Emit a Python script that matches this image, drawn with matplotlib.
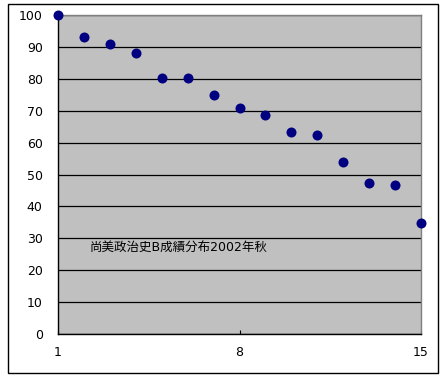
import matplotlib
matplotlib.use('Agg')
import matplotlib.pyplot as plt
from matplotlib.patches import Rectangle

# DejaVu for digits/latin, CJK fallback for the Japanese note
plt.rcParams['font.family'] = ['DejaVu Sans', 'Noto Sans CJK JP']

# data
ranks = [1, 2, 3, 4, 5, 6, 7, 8, 9, 10, 11, 12, 13, 14, 15]
scores = [100, 93.2, 91, 88.2, 80.3, 80.3, 75, 70.9, 68.7, 63.4, 62.5, 54, 47.4, 46.8, 34.9]
x_ticks = [1, 8, 15]
y_ticks = list(range(0, 101, 10))
note = '尚美政治史B成績分布2002年秋'

fig = plt.figure(figsize=(4.44, 3.75), dpi=100)
fig.patch.set_facecolor('white')
ax = fig.add_axes([58/444, 1 - 334/375, (421 - 58)/444, (334 - 15)/375])
ax.set_facecolor('#C0C0C0')

ax.scatter(ranks, scores, s=52, color='#000080', zorder=3, clip_on=False, linewidths=0)

ax.set_xlim(1, 15)
ax.set_ylim(0, 100)
ax.set_xticks(x_ticks)
ax.set_yticks(y_ticks)
ax.yaxis.grid(True, color='black', linewidth=0.9)
ax.set_axisbelow(True)
ax.tick_params(axis='x', direction='in', length=3, width=0.8, pad=9, labelsize=9)
ax.tick_params(axis='y', length=0, pad=11, labelsize=9)

for side in ['left', 'bottom']:
    ax.spines[side].set_color('black')
    ax.spines[side].set_linewidth(1)
for side in ['top', 'right']:
    ax.spines[side].set_color('#808080')
    ax.spines[side].set_linewidth(1)

ax.text(2.23, 27, note, fontsize=9, va='center', ha='left')

# outer chart border
fig.patches.append(Rectangle((8/444, 1 - 373/375), 430/444, 369/375, transform=fig.transFigure,
                             fill=False, edgecolor='black', linewidth=1))

fig.savefig('out.png', dpi=100)
